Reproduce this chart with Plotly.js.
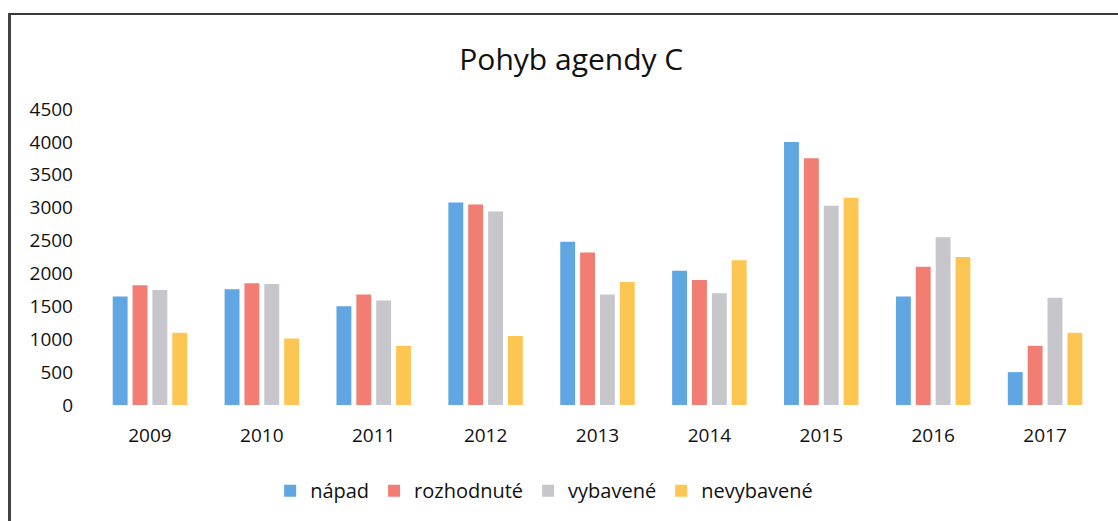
<!DOCTYPE html>
<html>
<head>
<meta charset="utf-8">
<script src="https://cdn.plot.ly/plotly-3.0.1.min.js"></script>
<style>
  body { margin: 0; background: #fff; }
  #frame { position: absolute; left: 8px; top: 13px; width: 1110px; height: 508px;
           border-top: 2px solid #3a3a3a; border-left: 3px solid #444; box-sizing: border-box; }
  #chart { position: absolute; left: 0; top: 0; width: 1118px; height: 521px; }
</style>
</head>
<body>
<div id="frame"></div>
<div id="chart"></div>
<script>
// Pohyb agendy C
const years = ["2009", "2010", "2011", "2012", "2013", "2014", "2015", "2016", "2017"];
const napad = [1650, 1760, 1500, 3080, 2480, 2040, 4000, 1650, 500];
const rozhodnute = [1820, 1850, 1680, 3050, 2320, 1900, 3750, 2100, 900];
const vybavene = [1750, 1840, 1590, 2940, 1680, 1700, 3030, 2550, 1630];
const nevybavene = [1100, 1010, 900, 1050, 1870, 2200, 3150, 2250, 1100];

const seriesNames = ["nápad", "rozhodnuté", "vybavené", "nevybavené"];
const seriesColors = ["#5fa6e2", "#f27d72", "#c6c6cc", "#fdc653"];
const seriesData = [napad, rozhodnute, vybavene, nevybavene];

const font = "'Open Sans', sans-serif";

const traces = seriesData.map((vals, i) => ({
    type: "bar",
    x: years,
    y: vals,
    name: seriesNames[i],
    marker: { color: seriesColors[i], line: { width: 0 } },
    hoverinfo: "x+y+name"
}));

Plotly.newPlot("chart", traces, {
    width: 1118,
    height: 521,
    paper_bgcolor: "rgba(0,0,0,0)",
    plot_bgcolor: "rgba(0,0,0,0)",
    margin: { l: 94, r: 17, t: 109, b: 115 },
    barmode: "group",
    bargap: 0.29,
    bargroupgap: 0.25,
    title: {
        text: "Pohyb agendy C",
        font: { family: font, size: 30, color: "#111" },
        x: 0.511, xanchor: "center",
        y: 0.885, yanchor: "middle"
    },
    font: { family: font, size: 19, color: "#111" },
    xaxis: {
        showgrid: false, showline: false, zeroline: false, ticks: "",
        ticklabelstandoff: 17
    },
    yaxis: {
        range: [0, 4500], dtick: 500, tick0: 0,
        showgrid: false, showline: false, zeroline: false, ticks: "",
        ticklabelstandoff: 20
    },
    legend: {
        orientation: "h",
        x: 0.447, xanchor: "center",
        y: -0.285, yanchor: "middle",
        font: { family: font, size: 20, color: "#111" },
        itemwidth: 30,
        traceorder: "normal"
    },
    showlegend: true
}, { displayModeBar: false, staticPlot: true });
</script>
</body>
</html>
